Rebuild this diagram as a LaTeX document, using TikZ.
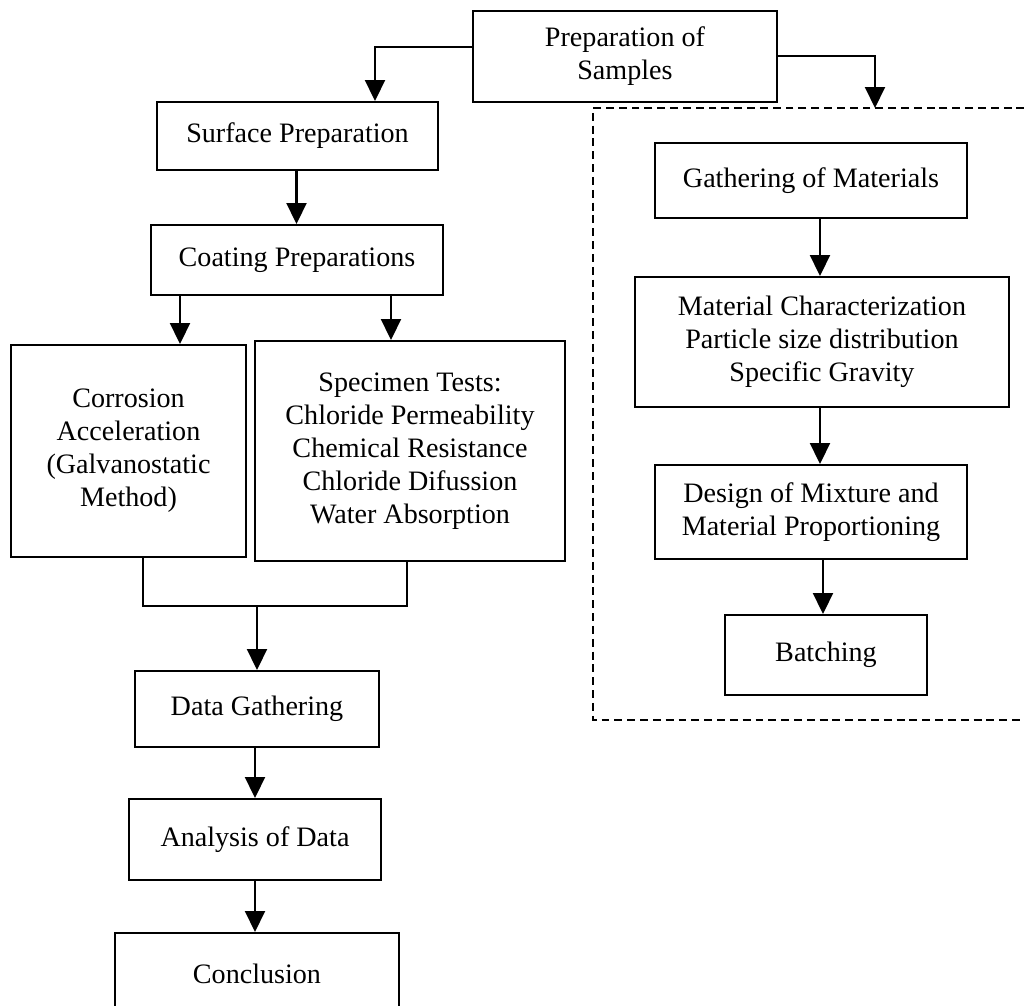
\documentclass[tikz,border=0pt]{standalone}
\usepackage{fontspec}
\setmainfont{Liberation Serif}
\usepackage{tikz}
\usetikzlibrary{arrows.meta, positioning}
\tikzset{
    block/.style = {
        rectangle,
        align=center,
        inner sep=0pt,
        line width=1.1pt,
        draw,
        font=\fontsize{16}{18.8}\selectfont,
    },
    group/.style = {
        line width=1.1pt,
        dash pattern=on 4.5pt off 2.8pt,
        draw,
    },
}
\tikzstyle{arrow} = [line width=1.15pt,-{Triangle[length=0.42cm,width=0.4cm]}]
\tikzstyle{line} = [line width=1.15pt]

\begin{document}
\begin{tikzpicture}[]
        \clip (0,0) rectangle (20.48,-20.12);
        \useasboundingbox (0,0) rectangle (20.48,-20.12);

        % left column
        \node(prep) [block, minimum width=6.08cm, minimum height=1.82cm] at (12.5,-1.13)
        {Preparation of\\Samples};
        \node(surface) [block, minimum width=5.62cm, minimum height=1.36cm] at (5.95,-2.72)
        {Surface Preparation};
        \node(coating) [block, minimum width=5.84cm, minimum height=1.4cm] at (5.94,-5.2)
        {Coating Preparations};
        \node(corrosion) [block, minimum width=4.7cm, minimum height=4.24cm] at (2.57,-9.02)
        {Corrosion\\Acceleration\\(Galvanostatic\\Method)};
        \node(specimen) [block, minimum width=6.2cm, minimum height=4.4cm] at (8.2,-9.02)
        {Specimen Tests:\\Chloride Permeability\\Chemical Resistance\\Chloride Difussion\\Water Absorption};
        \node(data) [block, minimum width=4.88cm, minimum height=1.52cm] at (5.14,-14.18)
        {Data Gathering};
        \node(analysis) [block, minimum width=5.04cm, minimum height=1.62cm] at (5.1,-16.79)
        {Analysis of Data};
        \node(conclusion) [block, minimum width=5.68cm, minimum height=1.62cm, anchor=north] at (5.14,-18.64)
        {Conclusion};

        % right column
        \draw [group] (21,-2.16) -- (11.86,-2.16) -- (11.86,-14.4) -- (21,-14.4);
        \coordinate (dtop) at (17.5,-2.16);
        \node(gathering) [block, minimum width=6.24cm, minimum height=1.5cm] at (16.22,-3.61)
        {Gathering of Materials};
        \node(matchar) [block, minimum width=7.48cm, minimum height=2.6cm] at (16.44,-6.84)
        {Material Characterization\\Particle size distribution\\Specific Gravity};
        \node(design) [block, minimum width=6.24cm, minimum height=1.88cm] at (16.22,-10.24)
        {Design of Mixture and\\Material Proportioning};
        \node(batching) [block, minimum width=4.04cm, minimum height=1.6cm] at (16.52,-13.1)
        {Batching};

        \draw [arrow] ([yshift=0.19cm]prep.west) -| ([xshift=1.55cm]surface.north);
        \draw [arrow] ([yshift=0.01cm]prep.east) -| (dtop);
        \draw [arrow] ([xshift=-0.02cm]surface.south) -- ([xshift=-0.02cm]surface.south |- coating.north);
        \draw [arrow] ([xshift=-2.34cm]coating.south) -- ([xshift=-2.34cm]coating.south |- corrosion.north);
        \draw [arrow] ([xshift=1.88cm]coating.south) -- ([xshift=1.88cm]coating.south |- specimen.north);

        \coordinate (merge) at (5.14,-12.12);
        \draw [line] ([xshift=0.29cm]corrosion.south) |- (merge);
        \draw [line] ([xshift=-0.06cm]specimen.south) |- (merge);
        \draw [arrow] (merge) -- (merge |- data.north);
        \draw [arrow] (analysis.north |- data.south) -- (analysis.north);
        \draw [arrow] (analysis.south) -- (analysis.south |- conclusion.north);

        \draw [arrow] ([xshift=0.18cm]gathering.south) -- ([xshift=0.18cm]gathering.south |- matchar.north);
        \draw [arrow] ([xshift=-0.04cm]matchar.south) -- ([xshift=-0.04cm]matchar.south |- design.north);
        \draw [arrow] ([xshift=0.24cm]design.south) -- ([xshift=0.24cm]design.south |- batching.north);

    \end{tikzpicture}
\end{document}
